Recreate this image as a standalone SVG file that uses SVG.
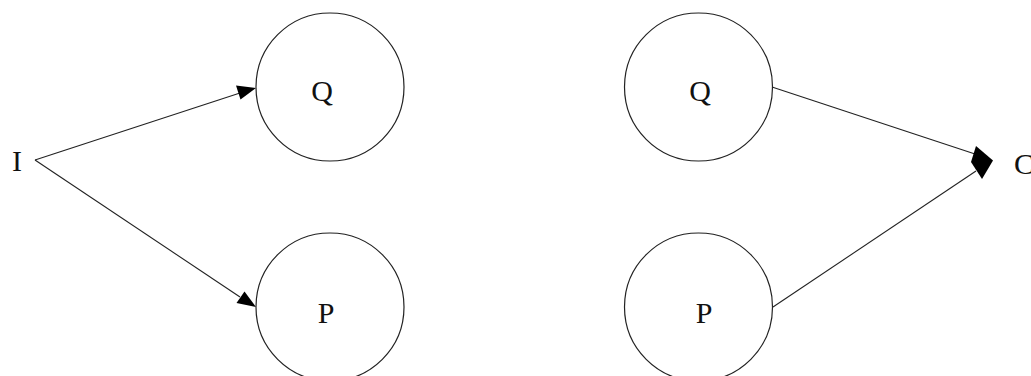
<svg xmlns="http://www.w3.org/2000/svg" width="1031" height="376" viewBox="0 0 1031 376">
<style>
.node{fill:none;stroke:#222;stroke-width:1.2}
.lbl{font-family:"Liberation Serif","Times New Roman",serif;font-size:30px;fill:#111;text-anchor:middle}
.edge{stroke:#222;stroke-width:1.1;fill:none}
.head{fill:#000;stroke:none}
</style>
<rect width="1031" height="376" fill="#fff"/>
<g id="connectors">
<line class="edge" x1="35" y1="160" x2="240" y2="93"/>
<polygon class="head" points="256,88 236,85.5 240.5,99.5"/>
<line class="edge" x1="35" y1="160" x2="240" y2="297"/>
<polygon class="head" points="256,307 236.5,303 244.5,291.5"/>
<line class="edge" x1="772" y1="87" x2="975" y2="154"/>
<line class="edge" x1="773" y1="307" x2="976" y2="171"/>
<polygon class="head" points="976,146 993,160.5 982,179 971,162"/>
</g>
<g id="node-I"><text class="lbl" x="17" y="171">I</text></g>
<g id="node-Q1"><circle class="node" cx="330" cy="87" r="74"/><text class="lbl" x="322" y="101">Q</text></g>
<g id="node-P1"><circle class="node" cx="330" cy="307" r="74"/><text class="lbl" x="326" y="323">P</text></g>
<g id="node-Q2"><circle class="node" cx="698.5" cy="87" r="74"/><text class="lbl" x="700" y="101">Q</text></g>
<g id="node-P2"><circle class="node" cx="698.5" cy="307" r="74"/><text class="lbl" x="704" y="323">P</text></g>
<g id="node-C"><text class="lbl" x="1024" y="174">C</text></g>
</svg>
